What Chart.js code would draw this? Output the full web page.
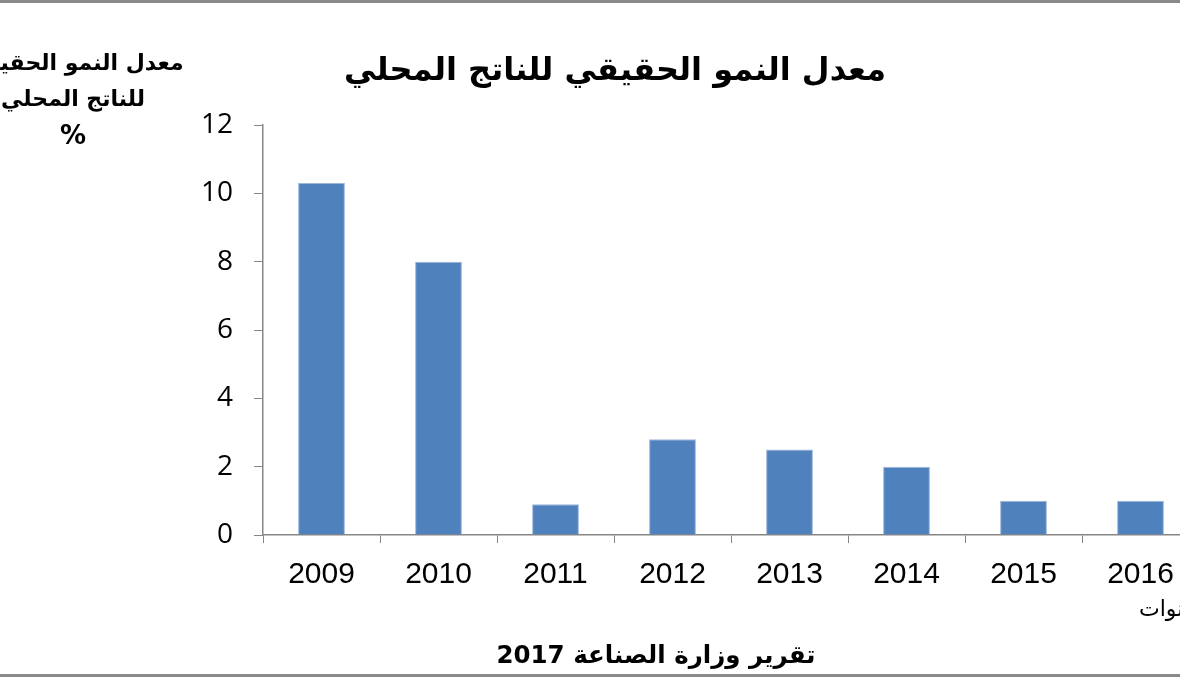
<!DOCTYPE html>
<html>
<head>
<meta charset="utf-8">
<script src="https://cdn.jsdelivr.net/npm/chart.js"></script>
<style>
  html, body { margin: 0; padding: 0; background: #fff; overflow: hidden; }
  #frame { position: relative; width: 1180px; height: 677px; overflow: hidden; }
  #wrap { position: absolute; left: 0; top: 0; width: 1220px; height: 677px; }
  .txt { position: absolute; white-space: nowrap; color: #000; font-family: "DejaVu Sans", sans-serif; }
  #title { left: 0; width: 1230px; top: 50px; text-align: center; font-size: 32px; font-weight: bold; direction: rtl; }
  #ytitle { left: -66px; width: 278px; top: 45px; text-align: center; font-size: 22px; font-weight: bold; line-height: 36px; direction: rtl; }
  #ytitle .pct { font-size: 26px; }
  #xtitle { left: 1139px; top: 596px; font-size: 22px; direction: rtl; }
  #source { left: 0; width: 1312px; top: 640px; text-align: center; font-size: 24.5px; font-weight: bold; direction: rtl; }
  #topline { position: absolute; left: 0; top: 0; width: 1180px; height: 3px; background: #8a8a8a; }
  #botline { position: absolute; left: 0; top: 674px; width: 1180px; height: 3px; background: #8a8a8a; }
</style>
</head>
<body>
<div id="frame">
  <div id="wrap"><canvas id="chart" width="1220" height="677"></canvas></div>
  <div id="title" class="txt">معدل النمو الحقيقي للناتج المحلي</div>
  <div id="ytitle" class="txt">معدل النمو الحقيقي<br>للناتج المحلي<br><span class="pct">%</span></div>
  <div id="xtitle" class="txt">السنوات</div>
  <div id="source" class="txt">تقرير وزارة الصناعة 2017</div>
  <div id="topline"></div>
  <div id="botline"></div>
</div>
<script>
  const years = ['2009', '2010', '2011', '2012', '2013', '2014', '2015', '2016'];
  const growthRate = [10.3, 8.0, 0.9, 2.8, 2.5, 2.0, 1.0, 1.0];
  const yTicks = [0, 2, 4, 6, 8, 10, 12];

  const axisColor = '#868686';

  new Chart(document.getElementById('chart'), {
    type: 'bar',
    data: {
      labels: years,
      datasets: [{
        data: growthRate,
        backgroundColor: '#4F81BD',
        borderColor: '#9CB6DA',
        borderWidth: 1,
        barPercentage: 0.8,
        categoryPercentage: 0.5
      }]
    },
    options: {
      responsive: false,
      animation: false,
      layout: { padding: { left: 0, right: 21, top: 125, bottom: 0 } },
      plugins: {
        legend: { display: false },
        tooltip: { enabled: false }
      },
      scales: {
        x: {
          offset: true,
          grid: { offset: true, drawOnChartArea: false, drawTicks: true, tickLength: 8, color: axisColor },
          border: { color: axisColor, width: 1.5 },
          ticks: {
            color: '#000',
            padding: 14,
            maxRotation: 0,
            font: { family: '"Liberation Sans", Arial, sans-serif', size: 30 }
          },
          afterFit: s => { s.height = 142; }
        },
        y: {
          min: yTicks[0],
          max: yTicks[yTicks.length - 1],
          afterBuildTicks: s => { s.ticks = yTicks.map(v => ({ value: v })); },
          grid: { drawOnChartArea: false, drawTicks: true, tickLength: 9, color: axisColor },
          border: { color: axisColor, width: 1.5 },
          ticks: {
            color: '#000',
            padding: 21,
            font: { family: '"Open Sans", sans-serif', size: 28 }
          },
          afterFit: s => { s.width = 263; }
        }
      }
    }
  });
</script>
</body>
</html>
